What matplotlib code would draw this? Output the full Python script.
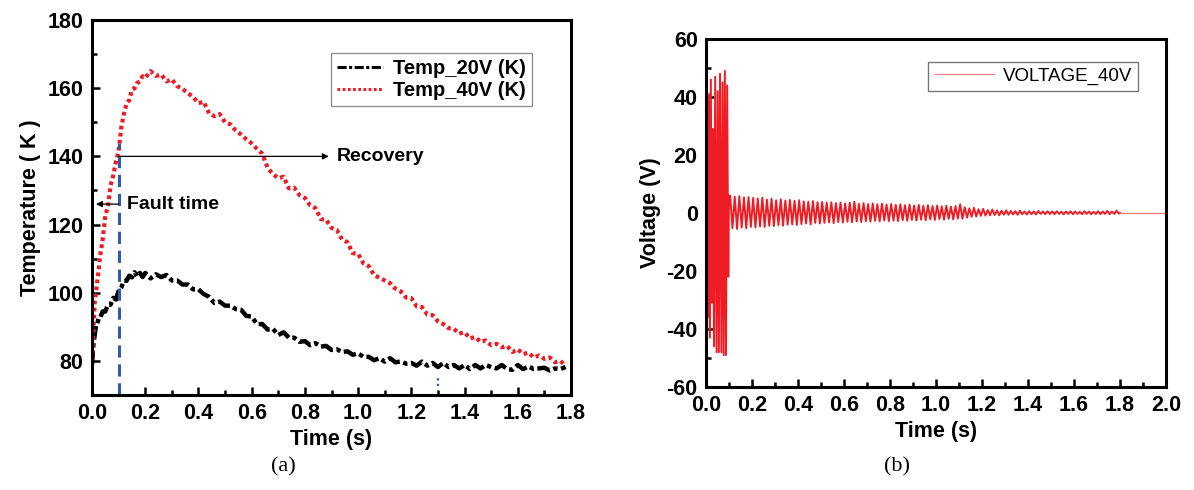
"""Temperature and voltage response after a fault: two-panel figure."""

import matplotlib

matplotlib.use("Agg")
import matplotlib.pyplot as plt
from matplotlib.ticker import MultipleLocator

plt.rcParams["font.family"] = ["Liberation Sans", "DejaVu Sans"]
plt.rcParams["axes.unicode_minus"] = False

# ---- panel (a): temperature (K) ----
time_temp = [
    0.000, 0.005, 0.010, 0.015, 0.020, 0.025, 0.030, 0.040, 0.050, 0.060,
    0.070, 0.080, 0.090, 0.100, 0.110, 0.120, 0.130, 0.140, 0.150, 0.160,
    0.170, 0.180, 0.190,
    0.20, 0.22, 0.24, 0.26, 0.28, 0.30, 0.32, 0.34, 0.36, 0.38,
    0.40, 0.42, 0.44, 0.46, 0.48, 0.50, 0.52, 0.54, 0.56, 0.58,
    0.60, 0.62, 0.64, 0.66, 0.68, 0.70, 0.72, 0.74, 0.76, 0.78,
    0.80, 0.82, 0.84, 0.86, 0.88, 0.90, 0.92, 0.94, 0.96, 0.98,
    1.00, 1.02, 1.04, 1.06, 1.08, 1.10, 1.12, 1.14, 1.16, 1.18,
    1.20, 1.22, 1.24, 1.26, 1.28, 1.30, 1.32, 1.34, 1.36, 1.38,
    1.40, 1.42, 1.44, 1.46, 1.48, 1.50, 1.52, 1.54, 1.56, 1.58,
    1.60, 1.62, 1.64, 1.66, 1.68, 1.70, 1.72, 1.74, 1.76, 1.78,
]
temp_20v = [
    79.0, 84.5, 87.5, 90.5, 91.0, 92.5, 92.5, 94.5, 94.5, 96.5,
    96.5, 98.5, 98.0, 100.5, 101.5, 103.5, 103.5, 105.0, 104.5, 106.0,
    104.8, 105.8, 104.6,
    105.8, 104.2, 105.4, 104.6, 105.2, 103.6, 103.6, 102.4, 102.4, 101.0,
    101.0, 99.6, 98.8, 97.0, 97.4, 96.2, 96.2, 95.2, 95.0, 93.2,
    93.0, 90.8, 90.8, 89.2, 89.4, 87.6, 88.4, 86.8, 86.8, 85.6,
    85.8, 84.6, 85.2, 84.2, 84.4, 83.2, 83.4, 82.6, 82.8, 81.8,
    82.2, 81.2, 81.2, 80.2, 80.8, 79.8, 80.8, 79.6, 79.8, 79.2,
    79.4, 78.6, 79.8, 78.6, 79.4, 78.2, 79.4, 78.2, 78.8, 77.8,
    78.8, 77.6, 78.8, 77.8, 78.8, 78.2, 77.8, 78.8, 77.6, 77.4,
    78.8, 77.6, 78.4, 77.6, 77.8, 78.0, 77.2, 77.8, 77.6, 78.2,
]
temp_40v = [
    80.0, 88.0, 97.0, 100.0, 103.5, 106.5, 110.5, 115.5, 122.5, 125.5,
    131.5, 134.5, 138.5, 141.5, 148.5, 152.5, 155.5, 156.5, 159.5, 160.0,
    161.5, 162.0, 163.5,
    163.0, 165.0, 163.6, 164.0, 162.0, 162.6, 160.6, 159.8, 158.6, 157.4,
    155.6, 156.0, 152.6, 151.8, 152.4, 150.0, 149.4, 147.6, 146.4, 145.0,
    143.8, 142.2, 140.8, 136.6, 134.8, 133.6, 134.0, 130.6, 130.8, 128.6,
    127.8, 125.6, 124.8, 121.6, 121.4, 119.0, 118.4, 115.6, 114.8, 111.6,
    111.4, 108.6, 107.8, 105.2, 104.4, 103.6, 102.8, 101.2, 100.4, 98.6,
    98.4, 96.0, 95.8, 93.6, 93.4, 91.6, 90.8, 89.6, 89.4, 88.0,
    88.4, 86.6, 87.0, 85.6, 86.0, 84.6, 85.0, 84.0, 84.4, 82.6,
    83.4, 82.0, 82.4, 81.0, 81.6, 80.6, 81.0, 79.6, 80.0, 78.6,
]

# ---- panel (b): voltage (V) ----
# fault interval: one entry per swing of the trace
fault_time = [0.000, 0.003, 0.008, 0.012, 0.017, 0.021, 0.026, 0.030,
              0.035, 0.040, 0.046, 0.051, 0.056, 0.061, 0.067, 0.072,
              0.077, 0.082, 0.087, 0.092, 0.097, 0.100]
fault_volt = [12, 42, -36, 41, -43, 46, -31, 29, -46, 47, -48, 42,
              -48, 48, -48, 45, -49, 49, -49, 44, -22, 6]
# after clearing: positive / negative swing of each cycle, period below
cycle_period = 0.02
cycle_start = 0.10
volt_hi = [
    6.0, 5.6, 5.8, 5.4, 5.5, 5.2, 5.0, 5.3, 4.6, 4.9,
    4.4, 4.7, 4.3, 4.5, 4.2, 4.4, 4.0, 3.9, 4.1, 3.7,
    3.8, 3.6, 3.7, 3.4, 3.6, 3.3, 3.5, 3.9, 3.2, 3.4,
    3.1, 3.3, 3.0, 3.2, 2.9, 3.1, 2.8, 3.0, 2.7, 2.9,
    2.6, 2.8, 2.5, 2.7, 2.4, 2.6, 2.3, 2.5, 2.2, 2.4,
    3.0, 2.0, 1.6, 1.8, 1.3, 1.4, 1.0, 1.2, 0.9, 0.8,
    0.9, 0.7, 0.6, 0.8, 0.5, 0.6, 0.5, 0.7, 0.5, 0.6,
    0.5, 0.6, 0.4, 0.5, 0.6, 0.5, 0.4, 0.6, 0.5, 0.4,
    0.6, 0.5, 0.7, 0.5, 0.8,
]
volt_lo = [
    -5.2, -5.5, -5.0, -5.3, -4.8, -5.0, -4.6, -4.8, -4.4, -4.5,
    -4.2, -4.4, -4.0, -3.9, -4.1, -3.8, -3.6, -3.9, -3.4, -3.6,
    -3.4, -3.2, -3.5, -3.1, -3.3, -3.0, -3.2, -2.9, -3.1, -2.8,
    -3.0, -2.7, -2.9, -2.6, -2.8, -2.6, -2.8, -2.5, -2.7, -2.4,
    -2.6, -2.3, -2.5, -2.2, -2.4, -2.1, -2.3, -2.0, -2.2, -1.9,
    -2.0, -1.6, -1.3, -1.2, -1.0, -0.9, -0.8, -0.7, -0.8, -0.6,
    -0.6, -0.5, -0.6, -0.4, -0.5, -0.4, -0.5, -0.3, -0.4, -0.3,
    -0.4, -0.3, -0.4, -0.3, -0.4, -0.3, -0.4, -0.3, -0.4, -0.3,
    -0.4, -0.3, -0.4, -0.3, -0.2,
]
record_end = 1.80
axis_end = 2.00

volt_time = list(fault_time)
volt_vals = list(fault_volt)
for k, (hi, lo) in enumerate(zip(volt_hi, volt_lo)):
    t0 = cycle_start + k * cycle_period
    volt_time += [t0 + cycle_period * 0.25, t0 + cycle_period * 0.75]
    volt_vals += [hi, lo]
volt_time.append(record_end)
volt_vals.append(0.0)

fault_t = 0.1
recovery_t = 1.3

BOLD = dict(fontweight="bold")


def style_axes(ax):
    for side in ("left", "bottom", "right", "top"):
        ax.spines[side].set_linewidth(2.2)
    ax.tick_params(which="both", direction="in", top=False, right=False,
                   width=1.8, labelsize=15.5, pad=6)
    ax.tick_params(which="major", length=6)
    ax.tick_params(which="minor", length=3.5)
    for lab in ax.get_xticklabels() + ax.get_yticklabels():
        lab.set_fontweight("bold")


fig = plt.figure(figsize=(11.94, 4.9), dpi=100)

# ---------------- (a) ----------------
ax1 = fig.add_axes([92 / 1194, 95 / 490, 479 / 1194, 375 / 490])
ax1.plot(time_temp, temp_20v, color="black", lw=3.2,
         linestyle=(0, (3, 0.8, 1, 0.8)), label="Temp_20V (K)")
ax1.plot(time_temp, temp_40v, color="#ee1c24", lw=3.0,
         linestyle=(0, (0.9, 0.8)), label="Temp_40V (K)")
ax1.plot([fault_t, fault_t], [70, 144], color="#3558a8", lw=2.2,
         linestyle=(0, (4, 2.2)))
ax1.plot([recovery_t, recovery_t], [72.5, 76], color="#3558a8", lw=1.6,
         linestyle=(0, (1, 1.5)))
ax1.annotate("", xy=(0.89, 140), xytext=(fault_t, 140),
             arrowprops=dict(arrowstyle="-|>", lw=0.9, color="black",
                             mutation_scale=9, shrinkA=0, shrinkB=0))
ax1.text(0.92, 140, "Recovery", fontsize=14, va="center", **BOLD)
ax1.annotate("", xy=(0.015, 126), xytext=(fault_t, 126),
             arrowprops=dict(arrowstyle="-|>", lw=0.9, color="black",
                             mutation_scale=9, shrinkA=0, shrinkB=0))
ax1.text(0.13, 126, "Fault time", fontsize=14, va="center", **BOLD)

ax1.set_xlim(0, 1.8)
ax1.set_ylim(70, 180)
ax1.xaxis.set_major_locator(MultipleLocator(0.2))
ax1.xaxis.set_minor_locator(MultipleLocator(0.1))
ax1.yaxis.set_major_locator(MultipleLocator(20))
ax1.yaxis.set_minor_locator(MultipleLocator(10))
ax1.set_yticks([80, 100, 120, 140, 160, 180])
ax1.set_xlabel("Time (s)", fontsize=15.5, labelpad=3, **BOLD)
ax1.set_ylabel("Temperature ( K )", fontsize=15.5, labelpad=5, **BOLD)
style_axes(ax1)
leg1 = ax1.legend(loc="upper right", bbox_to_anchor=(0.94, 0.94),
                  prop=dict(size=14.5, weight="bold"), fancybox=False,
                  edgecolor="#777777", handlelength=2.3, borderpad=0.3,
                  labelspacing=0.15, handletextpad=0.5)
leg1.get_frame().set_linewidth(1.0)
for line in leg1.get_lines():
    line.set_linewidth(2.2)

# ---------------- (b) ----------------
ax2 = fig.add_axes([706 / 1194, 103 / 490, 460 / 1194, 348 / 490])
ax2.plot(volt_time, volt_vals, color="#ee1c24", lw=1.4, label="VOLTAGE_40V")
ax2.plot([record_end, axis_end], [0.0, 0.0], color="#f07a7a", lw=0.9)
ax2.set_xlim(0, 2.0)
ax2.set_ylim(-60, 60)
ax2.xaxis.set_major_locator(MultipleLocator(0.2))
ax2.xaxis.set_minor_locator(MultipleLocator(0.1))
ax2.yaxis.set_major_locator(MultipleLocator(20))
ax2.yaxis.set_minor_locator(MultipleLocator(10))
ax2.set_xlabel("Time (s)", fontsize=15.5, labelpad=3, **BOLD)
ax2.set_ylabel("Voltage (V)", fontsize=15.5, labelpad=4, **BOLD)
style_axes(ax2)
leg2 = ax2.legend(loc="upper right", bbox_to_anchor=(0.96, 0.96),
                  prop=dict(size=13.5), fancybox=False, edgecolor="#555555",
                  handlelength=3.2, borderpad=0.3, handletextpad=0.5)
leg2.get_frame().set_linewidth(1.0)
for line in leg2.get_lines():
    line.set_color("#f08a8a")
    line.set_linewidth(1.0)

fig.text(283 / 1194, 1 - 467 / 490, "(a)", ha="center", va="center",
         fontsize=16, family=["Liberation Serif", "DejaVu Serif"])
fig.text(897 / 1194, 1 - 467 / 490, "(b)", ha="center", va="center",
         fontsize=16, family=["Liberation Serif", "DejaVu Serif"])

fig.savefig("out.png", dpi=100)
plt.close(fig)
